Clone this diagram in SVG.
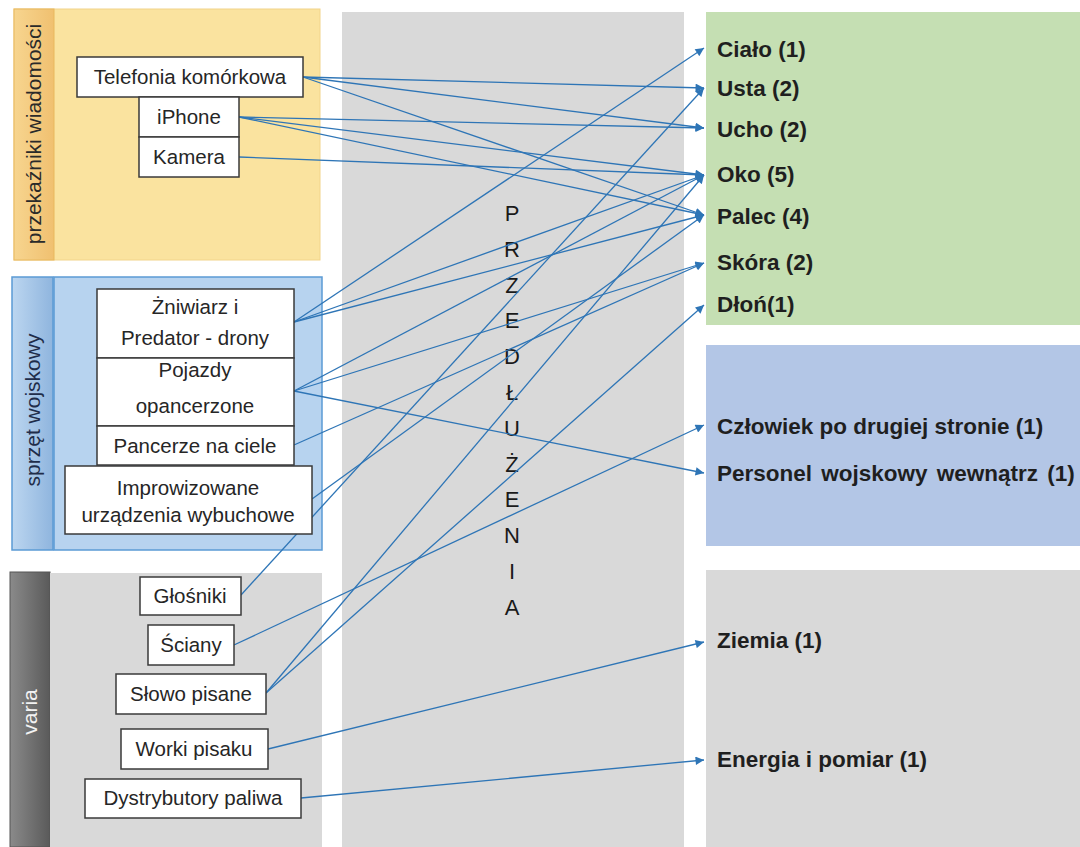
<svg xmlns="http://www.w3.org/2000/svg" width="1080" height="847" viewBox="0 0 1080 847">
<defs>
  <marker id="arr" viewBox="0 0 10 10" refX="10" refY="5" markerWidth="7.5" markerHeight="6.5" orient="auto" markerUnits="strokeWidth">
    <path d="M0,0 L10,5 L0,10 z" fill="#2e75b6"/>
  </marker>
  <linearGradient id="gY" x1="0" y1="0" x2="1" y2="0">
    <stop offset="0" stop-color="#f7d58f"/><stop offset="1" stop-color="#f0c070"/>
  </linearGradient>
  <linearGradient id="gB" x1="0" y1="0" x2="1" y2="0">
    <stop offset="0" stop-color="#bcd6f0"/><stop offset="1" stop-color="#8fb5de"/>
  </linearGradient>
  <linearGradient id="gG" x1="0" y1="0" x2="1" y2="0">
    <stop offset="0" stop-color="#8a8a8a"/><stop offset="1" stop-color="#5a5a5a"/>
  </linearGradient>
</defs>
<style>
  .box { fill: #ffffff; stroke: #3a3a3a; stroke-width: 1.5; }
  .t { font-family: "Liberation Sans", Arial, sans-serif; font-size: 20.5px; fill: #262626; text-anchor: middle; }
  .r { font-family: "Liberation Sans", Arial, sans-serif; font-size: 22.5px; font-weight: bold; fill: #1f1f1f; }
  .v { font-family: "Liberation Sans", Arial, sans-serif; font-size: 21px; text-anchor: middle; }
  .m { font-family: "Liberation Sans", Arial, sans-serif; font-size: 22px; fill: #1a1a1a; text-anchor: middle; }
  .c { fill: none; stroke: #2e75b6; stroke-width: 1.3; marker-end: url(#arr); }
</style>
<rect width="1080" height="847" fill="#ffffff"/>

<g id="panels">
  <rect x="14" y="9" width="306" height="251" fill="#fae39f" stroke="#f2d48a" stroke-width="1"/>
  <rect x="14" y="9" width="40" height="251" fill="url(#gY)" stroke="#e8b85e" stroke-width="1"/>
  <rect x="12" y="277" width="41" height="273" fill="url(#gB)" stroke="#5b9bd5" stroke-width="1.5"/>
  <rect x="54" y="277" width="268" height="273" fill="#b7d3ef" stroke="#5b9bd5" stroke-width="1.5"/>
  <rect x="10" y="572" width="40" height="275" fill="url(#gG)" stroke="#555555" stroke-width="1"/>
  <rect x="50" y="573" width="272" height="274" fill="#d9d9d9"/>
  <rect x="342" y="12" width="342" height="835" fill="#d9d9d9"/>
  <rect x="706" y="12" width="374" height="313" fill="#c5dfb3"/>
  <rect x="706" y="345" width="374" height="201" fill="#b3c6e6"/>
  <rect x="706" y="570" width="374" height="277" fill="#d9d9d9"/>
  <text class="v" transform="translate(41,134) rotate(-90)" fill="#2a2a2a">przekaźniki wiadomości</text>
  <text class="v" transform="translate(40,410) rotate(-90)" fill="#1f2d4a">sprzęt wojskowy</text>
  <text class="v" transform="translate(37,712) rotate(-90)" fill="#f2f2f2">varia</text>
</g>

<g id="title">
  <text class="m" x="512" y="221">P</text>
  <text class="m" x="512" y="257">R</text>
  <text class="m" x="512" y="293">Z</text>
  <text class="m" x="512" y="328">E</text>
  <text class="m" x="512" y="364">D</text>
  <text class="m" x="512" y="400">Ł</text>
  <text class="m" x="512" y="436">U</text>
  <text class="m" x="512" y="472">Ż</text>
  <text class="m" x="512" y="507">E</text>
  <text class="m" x="512" y="543">N</text>
  <text class="m" x="512" y="579">I</text>
  <text class="m" x="512" y="615">A</text>
</g>

<g id="connectors">
  <line class="c" x1="303" y1="77" x2="704" y2="88"/>
  <line class="c" x1="303" y1="77" x2="704" y2="128"/>
  <line class="c" x1="303" y1="77" x2="704" y2="215"/>
  <line class="c" x1="239" y1="117" x2="704" y2="128"/>
  <line class="c" x1="239" y1="117" x2="704" y2="175"/>
  <line class="c" x1="239" y1="117" x2="704" y2="215"/>
  <line class="c" x1="239" y1="157" x2="704" y2="175"/>
  <line class="c" x1="294" y1="322" x2="704" y2="48"/>
  <line class="c" x1="294" y1="322" x2="704" y2="175"/>
  <line class="c" x1="294" y1="322" x2="704" y2="215"/>
  <line class="c" x1="294" y1="391" x2="704" y2="175"/>
  <line class="c" x1="294" y1="391" x2="704" y2="263"/>
  <line class="c" x1="294" y1="391" x2="704" y2="473"/>
  <line class="c" x1="294" y1="445" x2="704" y2="263"/>
  <line class="c" x1="312" y1="499" x2="704" y2="215"/>
  <line class="c" x1="241" y1="595" x2="704" y2="88"/>
  <line class="c" x1="234" y1="645" x2="704" y2="425"/>
  <line class="c" x1="266" y1="693" x2="704" y2="175"/>
  <line class="c" x1="266" y1="693" x2="704" y2="305"/>
  <line class="c" x1="268" y1="749" x2="704" y2="642"/>
  <line class="c" x1="301" y1="798" x2="704" y2="760"/>
</g>

<g id="n-telefonia"><rect class="box" x="77" y="57" width="226" height="40"/><text class="t" x="190" y="84">Telefonia komórkowa</text></g>
<g id="n-iphone"><rect class="box" x="139" y="97" width="100" height="40"/><text class="t" x="189" y="124">iPhone</text></g>
<g id="n-kamera"><rect class="box" x="139" y="137" width="100" height="40"/><text class="t" x="189" y="164">Kamera</text></g>
<g id="n-zniwiarz"><rect class="box" x="97" y="289" width="197" height="69"/><text class="t" x="195" y="314">Żniwiarz i</text><text class="t" x="195" y="345">Predator - drony</text></g>
<g id="n-pojazdy"><rect class="box" x="97" y="358" width="197" height="68"/><text class="t" x="195" y="377">Pojazdy</text><text class="t" x="195" y="413">opancerzone</text></g>
<g id="n-pancerze"><rect class="box" x="97" y="426" width="197" height="39"/><text class="t" x="195" y="453">Pancerze na ciele</text></g>
<g id="n-improwizowane"><rect class="box" x="65" y="466" width="247" height="68"/><text class="t" x="188" y="495">Improwizowane</text><text class="t" x="188" y="522">urządzenia wybuchowe</text></g>
<g id="n-glosniki"><rect class="box" x="140" y="577" width="101" height="38"/><text class="t" x="190" y="603">Głośniki</text></g>
<g id="n-sciany"><rect class="box" x="148" y="625" width="86" height="40"/><text class="t" x="191" y="652">Ściany</text></g>
<g id="n-slowo"><rect class="box" x="116" y="674" width="150" height="40"/><text class="t" x="191" y="701">Słowo pisane</text></g>
<g id="n-worki"><rect class="box" x="121" y="729" width="147" height="40"/><text class="t" x="194" y="756">Worki pisaku</text></g>
<g id="n-dystrybutory"><rect class="box" x="85" y="779" width="216" height="39"/><text class="t" x="193" y="805">Dystrybutory paliwa</text></g>

<g id="n-cialo"><text class="r" x="717" y="57">Ciało (1)</text></g>
<g id="n-usta"><text class="r" x="717" y="96">Usta (2)</text></g>
<g id="n-ucho"><text class="r" x="717" y="137">Ucho (2)</text></g>
<g id="n-oko"><text class="r" x="717" y="182">Oko (5)</text></g>
<g id="n-palec"><text class="r" x="717" y="224">Palec (4)</text></g>
<g id="n-skora"><text class="r" x="717" y="270">Skóra (2)</text></g>
<g id="n-dlon"><text class="r" x="717" y="312">Dłoń(1)</text></g>
<g id="n-czlowiek"><text class="r" x="717" y="434">Człowiek po drugiej stronie (1)</text></g>
<g id="n-personel"><text class="r" x="717" y="481" word-spacing="3">Personel wojskowy wewnątrz (1)</text></g>
<g id="n-ziemia"><text class="r" x="717" y="648">Ziemia (1)</text></g>
<g id="n-energia"><text class="r" x="717" y="767">Energia i pomiar (1)</text></g>
</svg>
